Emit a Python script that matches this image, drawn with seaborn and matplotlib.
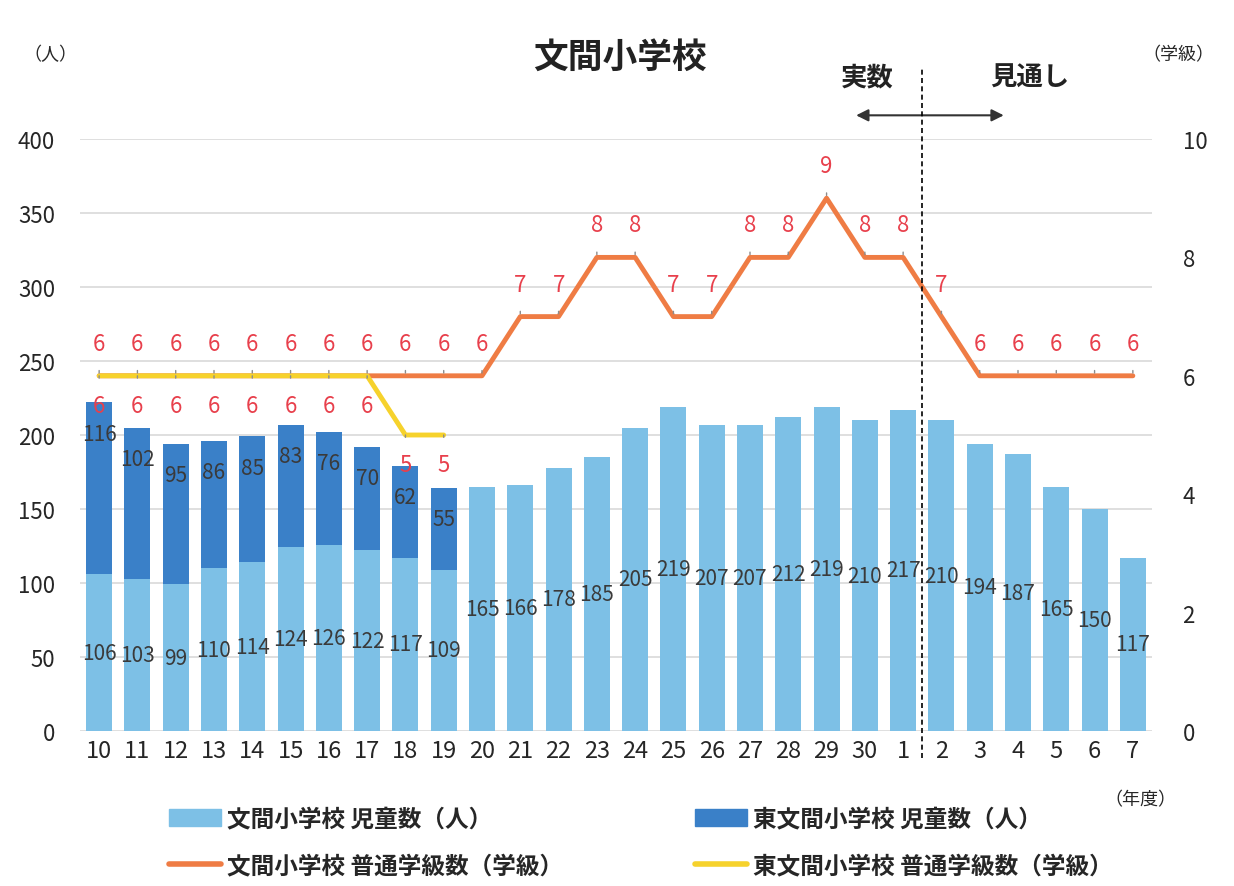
import numpy as np
import pandas as pd
import matplotlib
matplotlib.use("Agg")
import matplotlib.pyplot as plt
import seaborn as sns
from matplotlib.patches import Patch
from matplotlib.lines import Line2D

sns.set_style("white")
plt.rcParams['font.family'] = ['Noto Sans CJK JP', 'DejaVu Sans']

years = ['10', '11', '12', '13', '14', '15', '16', '17', '18', '19', '20', '21', '22', '23',
         '24', '25', '26', '27', '28', '29', '30', '1', '2', '3', '4', '5', '6', '7']
fumi_students = [106, 103, 99, 110, 114, 124, 126, 122, 117, 109, 165, 166, 178, 185,
                 205, 219, 207, 207, 212, 219, 210, 217, 210, 194, 187, 165, 150, 117]
higashi_students = [116, 102, 95, 86, 85, 83, 76, 70, 62, 55]
fumi_classes = [6, 6, 6, 6, 6, 6, 6, 6, 6, 6, 6, 7, 7, 8,
                8, 7, 7, 8, 8, 9, 8, 8, 7, 6, 6, 6, 6, 6]
higashi_classes = [6, 6, 6, 6, 6, 6, 6, 6, 5, 5]

light_blue = '#7dc0e6'
dark_blue = '#3a80c8'
orange = '#ef7c44'
yellow = '#f6d22c'
red = '#e8404c'
grey_txt = '#3a3a3a'

n = len(years)
hig_full = higashi_students + [np.nan] * (n - len(higashi_students))
higc_full = higashi_classes + [np.nan] * (n - len(higashi_classes))

df = pd.DataFrame({
    'year': years,
    'pos': np.arange(n),
    'fumi': fumi_students,
    'total': np.array(fumi_students) + np.nan_to_num(np.array(hig_full, dtype=float)),
    'fumi_cls': fumi_classes,
    'hig_cls': higc_full,
})
df.loc[df['pos'] >= len(higashi_students), 'total'] = 0

fig = plt.figure(figsize=(12.34, 8.87), dpi=100)
ax = fig.add_axes([80 / 1234, 1 - 732 / 887, 1072 / 1234, 592 / 887])

sns.barplot(data=df, x='year', y='total', order=years, color=dark_blue,
            width=0.68, saturation=1, linewidth=0, ax=ax, zorder=2)
sns.barplot(data=df, x='year', y='fumi', order=years, color=light_blue,
            width=0.68, saturation=1, linewidth=0, ax=ax, zorder=3)

ax.set_ylim(0, 400)
ax.set_xlim(-0.5, n - 0.5)
ax.set_yticks(range(0, 401, 50))
ax.yaxis.grid(True, color='#d9d9d9', linewidth=1.2, zorder=0)
ax.set_axisbelow(True)
for s in ax.spines.values():
    s.set_visible(False)
ax.set_xlabel('')
ax.set_ylabel('')
ax.tick_params(axis='y', labelsize=16, length=0, pad=18)
ax.tick_params(axis='x', labelsize=17, length=0, pad=6)

# bar value labels
for i, v in enumerate(fumi_students):
    ax.text(i, v / 2, str(v), ha='center', va='center', fontsize=15,
            color=grey_txt, zorder=6)
for i, v in enumerate(higashi_students):
    top = fumi_students[i] + v
    ax.text(i, top - 21, str(v), ha='center', va='center', fontsize=15,
            color=grey_txt, zorder=6)

ax2 = ax.twinx()
sns.lineplot(data=df, x='pos', y='fumi_cls', color=orange, linewidth=3.5,
             ax=ax2, zorder=4)
sns.lineplot(data=df.dropna(subset=['hig_cls']), x='pos', y='hig_cls', color=yellow,
             linewidth=3.5, ax=ax2, zorder=5)
ax2.set_ylim(0, 10)
ax2.set_yticks(range(0, 11, 2))
ax2.set_xlim(-0.5, n - 0.5)
ax2.set_xlabel('')
ax2.set_ylabel('')
for s in ax2.spines.values():
    s.set_visible(False)
ax2.tick_params(axis='y', labelsize=16, length=0, pad=22)

# class count labels
for i, v in enumerate(fumi_classes):
    ax2.annotate(str(v), xy=(i, v), xytext=(i, v + 0.55), ha='center', va='center',
                 fontsize=16, color=red, zorder=7,
                 arrowprops=dict(arrowstyle='-', color='#8c8c8c', lw=1,
                                 shrinkA=9, shrinkB=2))
for i, v in enumerate(higashi_classes):
    ax2.annotate(str(v), xy=(i, v), xytext=(i, v - 0.5), ha='center', va='center',
                 fontsize=16, color=red, zorder=7,
                 arrowprops=dict(arrowstyle='-', color='#8c8c8c', lw=1,
                                 shrinkA=9, shrinkB=2))

# actual / projection divider
ax2.axvline(21.5, ymin=-0.045, ymax=1.12, color='black', linestyle=(0, (3, 2)),
            linewidth=1.2, clip_on=False, zorder=8)
ax2.annotate('', xy=(19.7, 1.04), xytext=(23.7, 1.04),
             xycoords=('data', 'axes fraction'), textcoords=('data', 'axes fraction'),
             arrowprops=dict(arrowstyle='<|-|>', color='#333333', lw=1.5,
                             mutation_scale=18))
ax2.text(20.05, 1.105, '実数', transform=ax2.get_xaxis_transform(), ha='center',
         va='center', fontsize=19, fontweight='bold', color='#222222')
ax2.text(24.3, 1.105, '見通し', transform=ax2.get_xaxis_transform(), ha='center',
         va='center', fontsize=19, fontweight='bold', color='#222222')

fig.text(620 / 1234, 1 - 57 / 887, '文間小学校', ha='center', va='center',
         fontsize=25, fontweight='bold', color='#222222')
fig.text(50 / 1234, 1 - 55 / 887, '（人）', ha='center', va='center', fontsize=13)
fig.text(1178 / 1234, 1 - 55 / 887, '（学級）', ha='center', va='center', fontsize=13)
fig.text(1140 / 1234, 1 - 800 / 887, '（年度）', ha='center', va='center', fontsize=13)

handles = [Patch(color=light_blue), Line2D([], [], color=orange, lw=4),
           Patch(color=dark_blue), Line2D([], [], color=yellow, lw=4)]
labels = ['文間小学校 児童数（人）', '文間小学校 普通学級数（学級）',
          '東文間小学校 児童数（人）', '東文間小学校 普通学級数（学級）']
fig.legend(handles, labels, ncol=2, loc='lower left', bbox_to_anchor=(148 / 1234, -0.014),
           frameon=False, columnspacing=5.6, handlelength=2.2,
           handletextpad=0.25, labelspacing=0.95,
           prop={'size': 17, 'weight': 'bold'})

fig.savefig('out.png', dpi=100)
